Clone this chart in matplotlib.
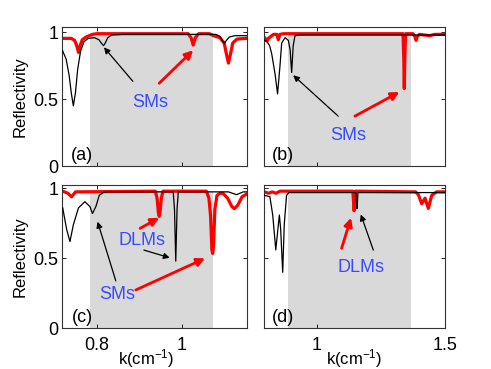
import numpy as np
import matplotlib
matplotlib.use('Agg')
import matplotlib.pyplot as plt

plt.rcParams['font.family'] = ['Liberation Sans', 'DejaVu Sans']
plt.rcParams['mathtext.fontset'] = 'custom'
plt.rcParams['mathtext.rm'] = 'Liberation Sans'
plt.rcParams['mathtext.it'] = 'Liberation Sans:italic'
plt.rcParams['mathtext.default'] = 'regular'

# panel (a)
ka_black = [0.720, 0.728, 0.735, 0.740, 0.745, 0.750, 0.755, 0.762, 0.770, 0.780, 0.795,
            0.805, 0.812, 0.816, 0.820, 0.826, 0.835, 0.860, 1.000, 1.080, 1.090, 1.096,
            1.100, 1.104, 1.112, 1.125, 1.153]
Ra_black = [0.86, 0.80, 0.68, 0.55, 0.45, 0.55, 0.72, 0.86, 0.93, 0.955, 0.96,
            0.945, 0.915, 0.90, 0.92, 0.96, 0.98, 0.985, 0.985, 0.985, 0.97, 0.935,
            0.915, 0.935, 0.965, 0.975, 0.975]
ka_red = [0.720, 0.740, 0.748, 0.753, 0.757, 0.761, 0.766, 0.775, 0.790, 0.800, 1.015,
          1.022, 1.027, 1.032, 1.040, 1.065, 1.075, 1.090, 1.100, 1.105, 1.110, 1.115,
          1.120, 1.130, 1.153]
Ra_red = [0.955, 0.955, 0.94, 0.90, 0.85, 0.90, 0.945, 0.965, 0.985, 0.99, 0.99,
          0.96, 0.905, 0.96, 0.99, 0.99, 0.975, 0.96, 0.92, 0.84, 0.77, 0.84,
          0.92, 0.95, 0.955]

# panel (b)
kb_black = [0.795, 0.805, 0.815, 0.823, 0.836, 0.846, 0.855, 0.862, 0.875, 0.888, 0.895,
            0.901, 0.907, 0.914, 0.930, 1.500]
Rb_black = [0.94, 0.93, 0.90, 0.84, 0.69, 0.54, 0.74, 0.92, 0.96, 0.94, 0.87,
            0.70, 0.90, 0.975, 0.98, 0.98]
kb_red = [0.795, 0.800, 0.805, 0.810, 0.830, 0.843, 0.849, 0.855, 0.870, 1.336, 1.339,
          1.341, 1.343, 1.346, 1.375, 1.382, 1.387, 1.392, 1.400, 1.420, 1.440, 1.460, 1.500]
Rb_red = [0.96, 0.95, 0.935, 0.955, 0.985, 0.985, 0.945, 0.985, 0.99, 0.99, 0.80,
          0.58, 0.80, 0.99, 0.99, 0.97, 0.94, 0.97, 0.985, 0.98, 0.975, 0.985, 0.985]

# panel (c)
kc_black = [0.720, 0.729, 0.737, 0.745, 0.757, 0.772, 0.784, 0.790, 0.798, 0.806, 0.815,
            0.825, 0.980, 0.983, 0.986, 0.989, 0.992, 1.110, 1.129, 1.145, 1.153]
Rc_black = [0.86, 0.71, 0.62, 0.74, 0.86, 0.905, 0.87, 0.82, 0.87, 0.95, 0.97,
            0.975, 0.975, 0.85, 0.48, 0.85, 0.975, 0.975, 0.955, 0.975, 0.975]
kc_red = [0.720, 0.732, 0.741, 0.750, 0.938, 0.942, 0.945, 0.947, 0.949, 0.952, 0.956,
          1.058, 1.064, 1.068, 1.071, 1.073, 1.075, 1.078, 1.083, 1.090, 1.097, 1.108,
          1.118, 1.124, 1.132, 1.142, 1.153]
Rc_red = [0.98, 0.965, 0.94, 0.975, 0.98, 0.93, 0.83, 0.80, 0.83, 0.93, 0.98,
          0.98, 0.93, 0.80, 0.56, 0.535, 0.60, 0.85, 0.95, 0.965, 0.965, 0.93,
          0.87, 0.855, 0.88, 0.94, 0.96]

# panel (d)
kd_black = [0.795, 0.816, 0.827, 0.839, 0.849, 0.853, 0.858, 0.866, 0.872, 0.881, 0.890,
            1.152, 1.154, 1.156, 1.158, 1.160, 1.500]
Rd_black = [0.95, 0.94, 0.81, 0.56, 0.74, 0.81, 0.71, 0.40, 0.74, 0.95, 0.97,
            0.97, 0.90, 0.855, 0.90, 0.97, 0.97]
kd_red = [0.795, 0.810, 0.825, 0.840, 0.855, 1.140, 1.143, 1.145, 1.147, 1.150, 1.385,
          1.396, 1.409, 1.422, 1.435, 1.448, 1.467, 1.500]
Rd_red = [0.975, 0.965, 0.975, 0.965, 0.98, 0.98, 0.90, 0.84, 0.90, 0.98, 0.975,
          0.955, 0.89, 0.93, 0.857, 0.95, 0.975, 0.975]

gap_left = (0.785, 1.074)
gap_right = (0.886, 1.366)
xlim_left = (0.719, 1.153)
xlim_right = (0.793, 1.5)
xticks_left = [0.8, 1.0]
xticks_right = [1.0, 1.5]
xticklabels_left = ['0.8', '1']
xticklabels_right = ['1', '1.5']
yticks = [0, 0.5, 1]
yticklabels = ['0', '0.5', '1']

blue = '#3a4bff'
fs = 13

fig = plt.figure(figsize=(4.91, 3.69), dpi=100)
ax_a = fig.add_axes([0.1269, 0.5501, 0.3756, 0.3767])
ax_b = fig.add_axes([0.5377, 0.5501, 0.3686, 0.3767])
ax_c = fig.add_axes([0.1269, 0.1103, 0.3756, 0.3883])
ax_d = fig.add_axes([0.5377, 0.1103, 0.3686, 0.3883])

panels = [(ax_a, ka_black, Ra_black, ka_red, Ra_red, gap_left, xlim_left, 1.04, '(a)'),
          (ax_b, kb_black, Rb_black, kb_red, Rb_red, gap_right, xlim_right, 1.04, '(b)'),
          (ax_c, kc_black, Rc_black, kc_red, Rc_red, gap_left, xlim_left, 1.024, '(c)'),
          (ax_d, kd_black, Rd_black, kd_red, Rd_red, gap_right, xlim_right, 1.024, '(d)')]

for ax, kb, Rb, kr, Rr, gap, xl, ytop, lab in panels:
    ax.fill_between(gap, [0, 0], [0.98, 0.98], color='#d9d9d9', lw=0, zorder=0)
    ax.plot(kr, Rr, color='#ff0000', lw=2.3, zorder=2)
    ax.plot(kb, Rb, color='k', lw=0.9, zorder=3)
    ax.set_xlim(xl)
    ax.set_ylim(0, ytop)
    ax.set_yticks(yticks)
    ax.tick_params(direction='in', top=True, right=True, length=3, width=0.6,
                   labelsize=fs, pad=3)
    for s in ax.spines.values():
        s.set_linewidth(0.8)
        s.set_color('#333333')
    ax.text(0.107, 0.075, lab, transform=ax.transAxes, fontsize=fs,
            ha='center', va='center')

for ax in (ax_a, ax_c):
    ax.set_xticks(xticks_left)
    ax.set_yticklabels(yticklabels)
    ax.set_ylabel('Reflectivity', fontsize=12, va='center')
    ax.yaxis.set_label_coords(-0.229, 0.5)
for ax in (ax_b, ax_d):
    ax.set_xticks(xticks_right)
    ax.set_yticklabels([])
ax_a.set_xticklabels([])
ax_b.set_xticklabels([])
ax_c.set_xticklabels(xticklabels_left)
ax_d.set_xticklabels(xticklabels_right)
ax_c.tick_params(axis='x', pad=6)
ax_d.tick_params(axis='x', pad=6)
ax_c.set_xlabel('k(cm$^{-1}$)', fontsize=12, va='center')
ax_d.set_xlabel('k(cm$^{-1}$)', fontsize=12, va='center')
ax_c.xaxis.set_label_coords(0.454, -0.21)
ax_d.xaxis.set_label_coords(0.497, -0.21)

black_arrow = dict(arrowstyle='-|>', color='k', lw=0.9, mutation_scale=9,
                   shrinkA=0, shrinkB=0)
red_arrow = dict(arrowstyle='-|>', color='#ff0000', lw=2.0, mutation_scale=12,
                 shrinkA=0, shrinkB=0)

# (a)
ax_a.annotate('', xy=(0.817, 0.888), xytext=(0.885, 0.634), arrowprops=black_arrow)
ax_a.annotate('', xy=(1.027, 0.866), xytext=(0.947, 0.619), arrowprops=red_arrow)
ax_a.text(0.925, 0.474, 'SMs', color=blue, fontsize=fs, ha='center', va='center')

# (b)
ax_b.annotate('', xy=(0.907, 0.679), xytext=(1.083, 0.373), arrowprops=black_arrow)
ax_b.annotate('', xy=(1.322, 0.554), xytext=(1.148, 0.373), arrowprops=red_arrow)
ax_b.text(1.122, 0.231, 'SMs', color=blue, fontsize=fs, ha='center', va='center')

# (c)
ax_c.annotate('', xy=(0.802, 0.762), xytext=(0.845, 0.338), arrowprops=black_arrow)
ax_c.annotate('', xy=(1.055, 0.50), xytext=(0.892, 0.274), arrowprops=red_arrow)
ax_c.text(0.849, 0.238, 'SMs', color=blue, fontsize=fs, ha='center', va='center')
ax_c.annotate('', xy=(0.947, 0.79), xytext=(0.902, 0.714), arrowprops=red_arrow)
ax_c.annotate('', xy=(0.972, 0.504), xytext=(0.911, 0.559), arrowprops=black_arrow)
ax_c.text(0.906, 0.631, 'DLMs', color=blue, fontsize=fs, ha='center', va='center')

# (d)
ax_d.annotate('', xy=(1.133, 0.79), xytext=(1.096, 0.571), arrowprops=red_arrow)
ax_d.annotate('', xy=(1.171, 0.814), xytext=(1.22, 0.559), arrowprops=black_arrow)
ax_d.text(1.171, 0.434, 'DLMs', color=blue, fontsize=fs, ha='center', va='center')

fig.savefig('out.png', dpi=100)
